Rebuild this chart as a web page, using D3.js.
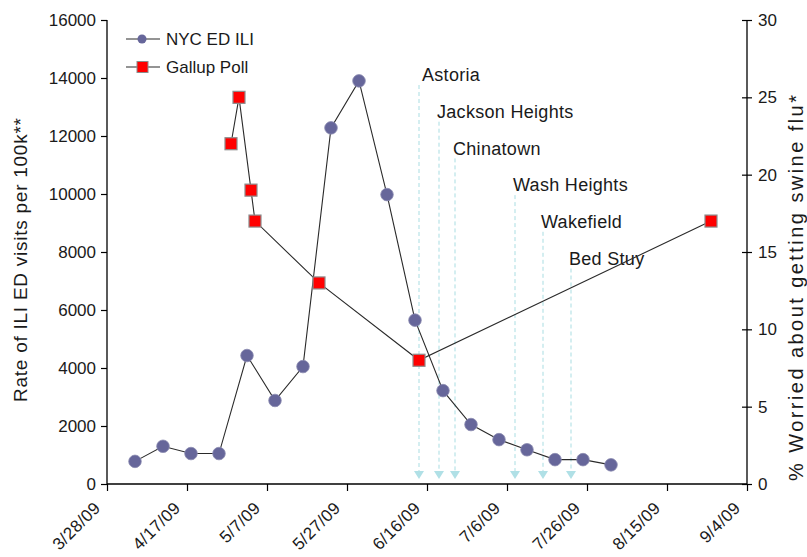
<!DOCTYPE html>
<html><head><meta charset="utf-8">
<script src="https://cdn.jsdelivr.net/npm/d3@7"></script>
<style>
body{margin:0;background:#fff;}
text{font-family:"Liberation Sans",Arial,Helvetica,sans-serif;fill:#1a1a1a;}
</style></head><body>
<svg id="c" width="807" height="557"></svg>
<script>
// ---- data ----
const iliDates = ["4/4/09","4/11/09","4/18/09","4/25/09","5/2/09","5/9/09","5/16/09","5/23/09","5/30/09","6/6/09","6/13/09","6/20/09","6/27/09","7/4/09","7/11/09","7/18/09","7/25/09","8/1/09"];
const iliValues = [780,1300,1050,1050,4430,2880,4050,12280,13900,9980,5650,3220,2050,1530,1180,840,840,660];
const pollDates = ["4/28/09","4/30/09","5/3/09","5/4/09","5/20/09","6/14/09","8/26/09"];
const pollValues = [22,25,19,17,13,8,17];
const places = ["Astoria","Jackson Heights","Chinatown","Wash Heights","Wakefield","Bed Stuy"];
const placeDates = ["6/14/09","6/19/09","6/23/09","7/8/09","7/15/09","7/22/09"];
const xTickLabels = ["3/28/09","4/17/09","5/7/09","5/27/09","6/16/09","7/6/09","7/26/09","8/15/09","9/4/09"];
const leftTicks = [0,2000,4000,6000,8000,10000,12000,14000,16000];
const rightTicks = [0,5,10,15,20,25,30];
const seriesNames = ["NYC ED ILI","Gallup Poll"];

// ---- setup ----
const parse = d3.timeParse("%m/%d/%y");
const fmt = d3.timeFormat("%-m/%-d/%y");
const svg = d3.select("#c");
const L = 107, R = 747, T = 20, B = 484;
const x = d3.scaleTime().domain([parse(xTickLabels[0]), parse(xTickLabels[xTickLabels.length-1])]).range([L, R]);
const yL = d3.scaleLinear().domain([0,16000]).range([B, T]);
const yR = d3.scaleLinear().domain([0,30]).range([B, T]);

const ili = iliDates.map((d,i)=>({date:parse(d), v:iliValues[i]}));
const poll = pollDates.map((d,i)=>({date:parse(d), v:pollValues[i]}));

// ---- place annotations (dashed lines + arrows) ----
const ann = svg.append("g");
places.forEach((p,i)=>{
  const px = x(parse(placeDates[i]));
  const labelY = 75 + i*36.7;
  const top = labelY + 10;
  ann.append("line").attr("x1",px).attr("x2",px).attr("y1",top).attr("y2",471)
    .attr("stroke","#a9dde2").attr("stroke-width",1).attr("stroke-dasharray","4,3");
  ann.append("path").attr("d",`M${px-5},${471}L${px+5},${471}L${px},${479}Z`).attr("fill","#b0e0e6");
  ann.append("text").attr("x",px + (i===0 ? 3 : -2)).attr("y",labelY).attr("dy","0.35em")
    .attr("font-size",18).attr("letter-spacing","0.3px").attr("fill","#222").text(p);
});

// ---- axes ----
const axL = svg.append("g").attr("transform",`translate(${L},0)`)
  .call(d3.axisLeft(yL).tickValues(leftTicks).tickSize(6).tickPadding(5).tickFormat(d3.format("d")));
const axR = svg.append("g").attr("transform",`translate(${R},0)`)
  .call(d3.axisRight(yR).tickValues(rightTicks).tickSize(5).tickPadding(6));
axR.selectAll(".tick line").attr("x1",-5).attr("x2",5);
const axB = svg.append("g").attr("transform",`translate(0,${B})`)
  .call(d3.axisBottom(x).tickValues(xTickLabels.map(parse)).tickSize(7).tickFormat(fmt));
[axL,axR,axB].forEach(a=>{
  a.select(".domain").attr("stroke","#000").attr("stroke-width",1.3);
  a.selectAll(".tick line").attr("stroke","#000").attr("stroke-width",1.2);
  a.selectAll("text").attr("font-size",17).attr("font-family","Liberation Sans, Arial, sans-serif").attr("fill","#1a1a1a");
});
axL.select(".domain").attr("d",`M0,${B}V${T}`);
axR.select(".domain").attr("d",`M0,${B}V${T}`);
axB.select(".domain").attr("d",`M${L},0H${R}`);
axB.selectAll(".tick text").attr("text-anchor","end").attr("dy",0).attr("y",0)
  .attr("transform","translate(-6,25) rotate(-45)").attr("letter-spacing","0.4px");

// axis titles
svg.append("text").attr("transform",`translate(27,${260}) rotate(-90)`).attr("text-anchor","middle")
  .attr("font-size",19).attr("textLength",284).attr("lengthAdjust","spacing").text("Rate of ILI ED visits per 100k**");
svg.append("text").attr("transform",`translate(803,${288}) rotate(-90)`).attr("text-anchor","middle")
  .attr("font-size",20).attr("textLength",386).attr("lengthAdjust","spacing").text("% Worried about getting swine flu*");

// ---- series ----
const lineL = d3.line().x(d=>x(d.date)).y(d=>yL(d.v));
const lineR = d3.line().x(d=>x(d.date)).y(d=>yR(d.v));
svg.append("path").datum(poll).attr("d",lineR).attr("fill","none").attr("stroke","#2a2a2a").attr("stroke-width",1.1);
svg.append("path").datum(ili).attr("d",lineL).attr("fill","none").attr("stroke","#2a2a2a").attr("stroke-width",1.1);

svg.append("g").selectAll("circle").data(ili).join("circle")
  .attr("cx",d=>x(d.date)).attr("cy",d=>yL(d.v)).attr("r",6.3)
  .attr("fill","#66669a").attr("stroke","#8a8ab0").attr("stroke-width",0.8);
svg.append("g").selectAll("rect").data(poll).join("rect")
  .attr("x",d=>x(d.date)-6).attr("y",d=>yR(d.v)-6).attr("width",12).attr("height",12)
  .attr("fill","#ff0000").attr("stroke","#8c8c8c").attr("stroke-width",1.2);

// ---- legend ----
const lg = svg.append("g");
seriesNames.forEach((n,i)=>{
  const ly = 39 + i*28;
  lg.append("line").attr("x1",126).attr("x2",160).attr("y1",ly).attr("y2",ly).attr("stroke","#2a2a2a").attr("stroke-width",1.1);
  if(i===0) lg.append("circle").attr("cx",142).attr("cy",ly).attr("r",4.5).attr("fill","#66669a");
  else lg.append("rect").attr("x",137).attr("y",ly-5.5).attr("width",11).attr("height",11).attr("fill","#ff0000").attr("stroke","#8c8c8c");
  lg.append("text").attr("x",166).attr("y",ly).attr("dy","0.35em").attr("font-size",17).text(n);
});
</script></body></html>
